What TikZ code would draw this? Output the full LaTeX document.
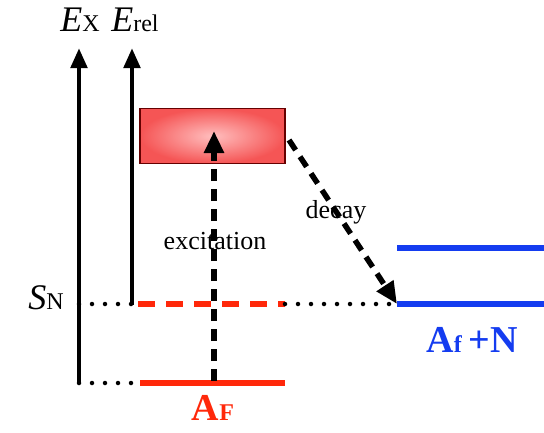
\documentclass[tikz,border=0pt]{standalone}
\usepackage{fontspec}
\setmainfont{Liberation Serif}
\usetikzlibrary{arrows.meta}
\definecolor{lvred}{RGB}{255,40,10}
\definecolor{lvblue}{RGB}{20,60,240}
\definecolor{boxred}{RGB}{245,85,85}
\definecolor{boxlight}{RGB}{255,190,190}
\tikzset{
  axis/.style={line width=4.8pt,-{Triangle[length=20pt,width=16pt]}},
  dots/.style={line width=4.5pt,dash pattern=on 0pt off 13pt,line cap=round},
  redlev/.style={line width=6pt,lvred},
  bluelev/.style={line width=6pt,lvblue},
  dasharrow/.style={line width=5.5pt,dash pattern=on 12pt off 8pt,-{Triangle[length=22pt,width=19pt]}},
  lbl/.style={inner sep=0pt,font=\fontsize{26}{28}\selectfont},
}
\begin{document}
\begin{tikzpicture}[x=1pt,y=-1pt]
\useasboundingbox (0,0) rectangle (544,432);
% axes
\coordinate (ex0) at (79,384);
\coordinate (ex1) at (79,48);
\coordinate (er0) at (132,305);
\coordinate (er1) at (132,48);
\draw[axis] (ex0) -- (ex1);
\draw[axis] (er0) -- (er1);
\node[inner sep=0pt,anchor=base] (lex) at (80,31) {\fontsize{36}{38}\selectfont\textit{E}\fontsize{24}{26}\selectfont X};
\node[inner sep=0pt,anchor=base] (ler) at (135,31) {\fontsize{36}{38}\selectfont\textit{E}\fontsize{24}{26}\selectfont rel};
\node[inner sep=0pt,anchor=base] (lsn) at (46,309) {\fontsize{36}{38}\selectfont\textit{S}\fontsize{24}{26}\selectfont N};
% box
\node[draw=black!60!red,line width=1.4pt,inner sep=0pt,minimum width=145pt,minimum height=55pt,
  inner color=boxlight,outer color=boxred] (box) at (212.5,136) {};
% levels
\coordinate (sn0) at (79,304);
\coordinate (sn1) at (138,304);
\coordinate (sn2) at (285,304);
\coordinate (sn3) at (397,304);
\coordinate (g0) at (79,383);
\coordinate (g1) at (140,383);
\coordinate (g2) at (285,383);
\draw[dots] (sn0) -- (sn1);
\draw[redlev,dash pattern=on 17pt off 11pt] (sn1) -- (sn2);
\draw[dots] (sn2) -- (sn3);
\draw[dots] (g0) -- (g1);
\draw[redlev] (g1) -- (g2);
\coordinate (b0) at (397,248);
\coordinate (b1) at (544,248);
\coordinate (c0) at (397,304);
\coordinate (c1) at (544,304);
\draw[bluelev] (b0) -- (b1);
\draw[bluelev] (c0) -- (c1);
% arrows
\coordinate (exA) at (214,381);
\coordinate (exB) at (214,131);
\draw[dasharrow] (exA) -- (exB);
\coordinate (dcA) at (289,140);
\draw[dasharrow] (dcA) -- (c0);
\node[lbl] (lexc) at (215,241) {excitation};
\node[lbl] (ldec) at (336,212) {decay};
% species labels
\node[inner sep=0pt,anchor=base,text=lvred] (laf) at (213,420) {\fontsize{38}{40}\selectfont\textbf{A}\fontsize{24}{26}\selectfont\textbf{F}};
\node[inner sep=0pt,anchor=base,text=lvblue] (lan) at (472,352) {\fontsize{38}{40}\selectfont\textbf{A}\fontsize{24}{26}\selectfont\textbf{f}\fontsize{38}{40}\selectfont\,\textbf{+N}};
\end{tikzpicture}
\end{document}
